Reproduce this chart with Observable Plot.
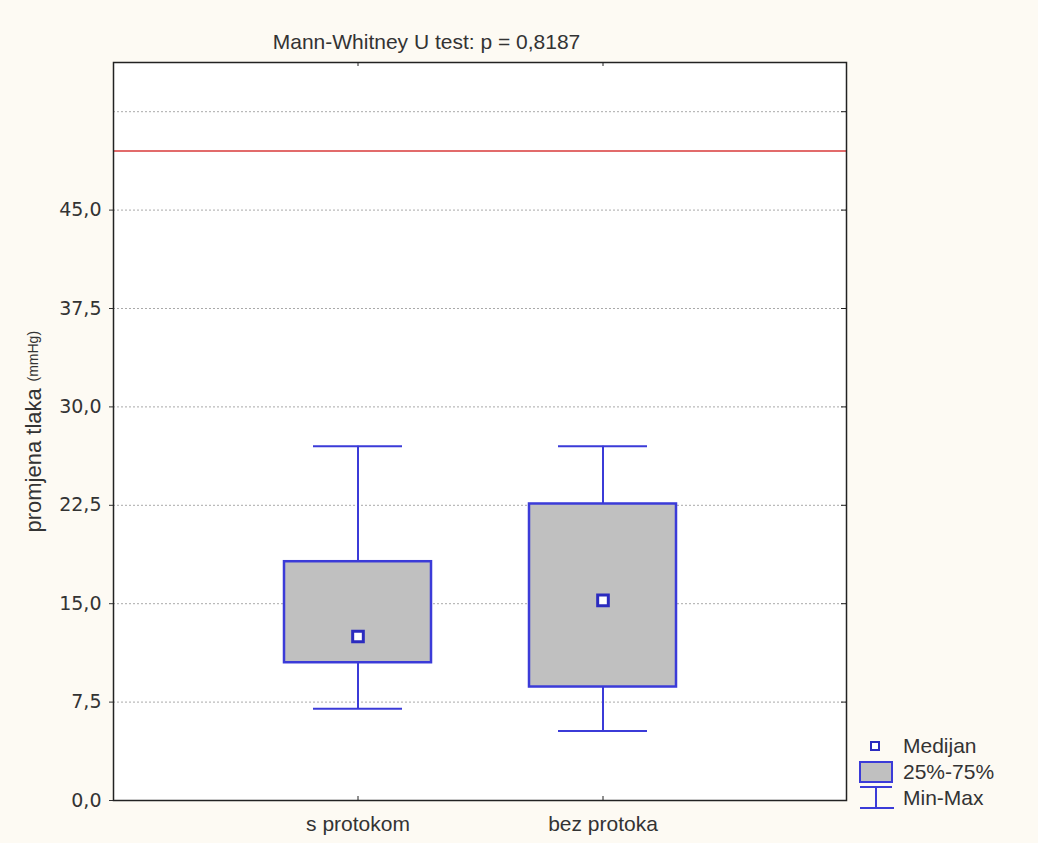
<!DOCTYPE html>
<html>
<head>
<meta charset="utf-8">
<script src="https://cdn.jsdelivr.net/npm/d3@7"></script>
<script src="https://cdn.jsdelivr.net/npm/@observablehq/plot@0.6"></script>
<style>
  body { margin: 0; background: #fdfaf3; }
  #wrap { position: relative; width: 1038px; height: 843px; overflow: hidden; }
  #legendGlyphs { position: absolute; left: 850px; top: 735px; }
  .lg { position: absolute; left: 903px; height: 24px; line-height: 24px;
        font-family: "Liberation Sans", Arial, sans-serif; font-size: 21px; color: #333; white-space: nowrap; }
</style>
</head>
<body>
<div id="wrap"></div>
<script>
// ---- data ----
const categories = ["s protokom", "bez protoka"];
const minVals    = [7.0, 5.3];
const q1Vals     = [10.5, 8.65];
const medianVals = [12.5, 15.25];
const q3Vals     = [18.2, 22.6];
const maxVals    = [27.0, 27.0];
const yTickValues = [0, 7.5, 15, 22.5, 30, 37.5, 45];
const gridValues  = [7.5, 15, 22.5, 30, 37.5, 45, 52.5];
const referenceLine = [49.5];
const titleText = "Mann-Whitney U test: p = 0,8187";
const yLabelMain = "promjena tlaka";
const yLabelUnit = "(mmHg)";
const legendLabels = ["Medijan", "25%-75%", "Min-Max"];

// ---- chart ----
const blue = "#3b3bd8";
const medBlue = "#2b2bbf";
const data = categories.map((c, i) => ({
  cat: c, min: minVals[i], q1: q1Vals[i], med: medianVals[i], q3: q3Vals[i], max: maxVals[i]
}));

const W = 1038, H = 843, mL = 113, mR = 192, mT = 62, mB = 43;
const fw = W - mL - mR, fh = H - mT - mB;
const sans = "Liberation Sans, Arial, sans-serif";

const chart = Plot.plot({
  width: W, height: H,
  marginLeft: mL, marginRight: mR, marginTop: mT, marginBottom: mB,
  style: { background: "#fdfaf3", fontFamily: sans, fontSize: "21px", color: "#333" },
  x: { domain: categories, paddingInner: 0.4, paddingOuter: 0.69, label: null },
  y: { domain: [0, 56.25], label: null },
  marks: [
    Plot.frame({ fill: "white", stroke: null }),
    Plot.ruleY(gridValues, { stroke: "#a9a9a9", strokeDasharray: "2,2" }),
    Plot.ruleY(referenceLine, { stroke: "#d83a3a", strokeWidth: 1.5 }),
    Plot.ruleX(data, { x: "cat", y1: "min", y2: "max", stroke: blue, strokeWidth: 2 }),
    Plot.tickY(data, { x: "cat", y: "min", stroke: blue, strokeWidth: 2, insetLeft: 29, insetRight: 29 }),
    Plot.tickY(data, { x: "cat", y: "max", stroke: blue, strokeWidth: 2, insetLeft: 29, insetRight: 29 }),
    Plot.barY(data, { x: "cat", y1: "q1", y2: "q3", fill: "#c0c0c0", stroke: blue, strokeWidth: 2.5 }),
    Plot.dot(data, { x: "cat", y: "med", symbol: "square", r: 6, fill: "white", stroke: medBlue, strokeWidth: 3 }),
    Plot.axisY({ ticks: yTickValues, tickSize: 4, tickPadding: 8,
      tickFormat: d => d.toFixed(1).replace(".", ","),
      fontFamily: "DejaVu Sans", fontSize: 19, fill: "#333", label: null }),
    Plot.axisX({ tickSize: 0, tickPadding: 16, fontFamily: sans, fontSize: 21, fill: "#333", label: null }),
    Plot.tickY(gridValues, { stroke: "#222", insetLeft: fw - 5 }),
    Plot.tickX(categories, { x: d => d, stroke: "#222", insetBottom: fh - 4 }),
    Plot.tickX(categories, { x: d => d, stroke: "#222", insetTop: fh - 4 }),
    Plot.frame({ stroke: "#222", strokeWidth: 1.5 }),
    Plot.text([titleText], { text: d => d, frameAnchor: "top-left", dx: 313, dy: -28,
      textAnchor: "middle", fontFamily: sans, fontSize: 21, fill: "#333" }),
    Plot.text([yLabelMain], { text: d => d, frameAnchor: "left", dx: -80, dy: 101, rotate: -90,
      textAnchor: "start", fontFamily: sans, fontSize: 22, fill: "#333" }),
    Plot.text([yLabelUnit], { text: d => d, frameAnchor: "left", dx: -80, dy: -50, rotate: -90,
      textAnchor: "start", fontFamily: sans, fontSize: 14, fill: "#333" })
  ]
});

const wrap = document.getElementById("wrap");
wrap.appendChild(chart);

// ---- legend (below-right of the plot area) ----
const lg = d3.select(wrap).append("svg").attr("id", "legendGlyphs").attr("width", 50).attr("height", 80);
lg.append("rect").attr("x", 21).attr("y", 7).attr("width", 8).attr("height", 8)
  .attr("fill", "white").attr("stroke", medBlue).attr("stroke-width", 2);
lg.append("rect").attr("x", 10).attr("y", 27).attr("width", 32).attr("height", 20)
  .attr("fill", "#c0c0c0").attr("stroke", blue).attr("stroke-width", 2);
lg.append("line").attr("x1", 10).attr("x2", 42).attr("y1", 52).attr("y2", 52).attr("stroke", blue).attr("stroke-width", 2);
lg.append("line").attr("x1", 26).attr("x2", 26).attr("y1", 52).attr("y2", 73).attr("stroke", blue).attr("stroke-width", 2);
lg.append("line").attr("x1", 10).attr("x2", 44).attr("y1", 73).attr("y2", 73).attr("stroke", blue).attr("stroke-width", 2);

const rowCenters = [746, 772, 798];
legendLabels.forEach((t, i) => {
  d3.select(wrap).append("div").attr("class", "lg").style("top", (rowCenters[i] - 12) + "px").text(t);
});
</script>
</body>
</html>
